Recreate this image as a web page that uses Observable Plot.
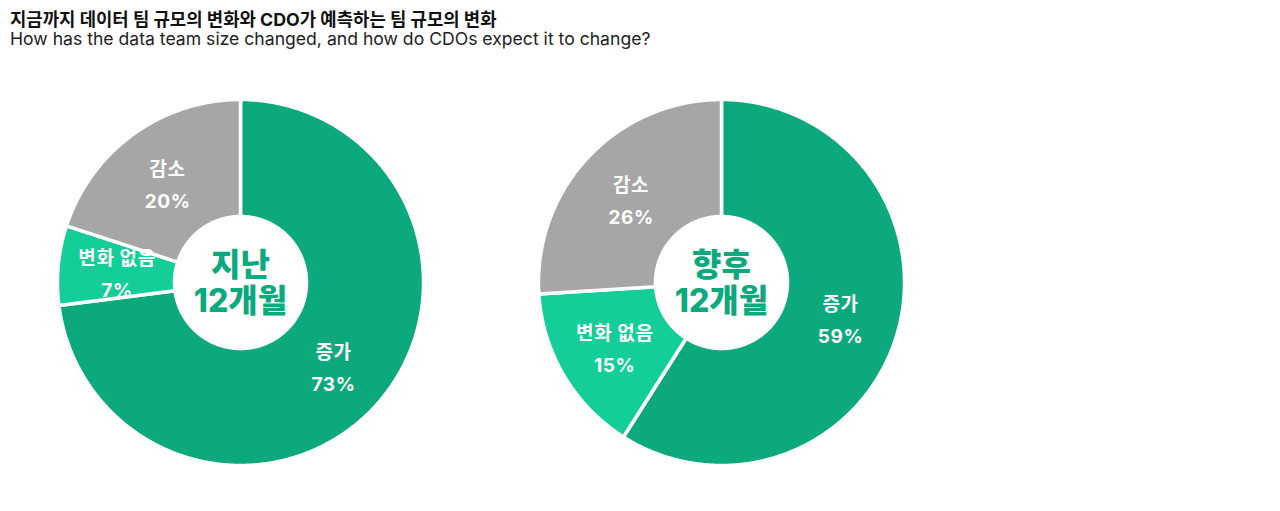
<!DOCTYPE html>
<html>
<head>
<meta charset="utf-8">
<script src="https://cdn.jsdelivr.net/npm/d3@7"></script>
<script src="https://cdn.jsdelivr.net/npm/@observablehq/plot@0.6"></script>
<style>
  body { margin: 0; background: #fff; font-family: Inter, "Noto Sans CJK KR", sans-serif; }
  #title { position: absolute; left: 10px; top: 5px; font-size: 17.8px; font-weight: 700; color: #111; }
  #subtitle { position: absolute; left: 10px; top: 28px; font-size: 17.6px; font-weight: 400; color: #222; }
  #chart { position: absolute; left: 0; top: 55px; }
  #chart g.slice-label text { letter-spacing: 0.6px; }
</style>
</head>
<body>
<div id="title">지금까지 데이터 팀 규모의 변화와 CDO가 예측하는 팀 규모의 변화</div>
<div id="subtitle">How has the data team size changed, and how do CDOs expect it to change?</div>
<div id="chart"></div>
<script>
// ---- data ----
const categories = ["증가", "변화 없음", "감소"];
const pastValues = [73, 7, 20];
const nextValues = [59, 15, 26];
const periods = ["지난\n12개월", "향후\n12개월"];
const colors = ["#0CA97C", "#13CE98", "#A6A6A6"];

// ---- layout ----
const W = 1280, H = 456;
const R = 183;                 // outer radius px
const innerRatio = 66 / 183;
const labelRatio = 124 / 183;
const centerPx = [[240, 227], [721, 227]];

// data coordinates: 1 unit = outer radius
const xDomain = [0, W / R];
const yDomain = [-(H) / R, 0];
const centers = centerPx.map(([px, py]) => [px / R, -py / R]);

const series = [pastValues, nextValues];
const pie = d3.pie().sort(null).value(d => d.value);

const polys = [];
const labels = [];
series.forEach((vals, di) => {
  const arcs = pie(categories.map((c, i) => ({cat: c, value: vals[i]})));
  const [cx, cy] = centers[di];
  arcs.forEach(a => {
    const id = di + "-" + a.data.cat;
    const steps = Math.max(2, Math.ceil((a.endAngle - a.startAngle) / (Math.PI / 360)));
    for (let s = 0; s <= steps; s++) {
      const t = a.startAngle + (a.endAngle - a.startAngle) * s / steps;
      polys.push({id, cat: a.data.cat, x: cx + Math.sin(t), y: cy + Math.cos(t)});
    }
    for (let s = steps; s >= 0; s--) {
      const t = a.startAngle + (a.endAngle - a.startAngle) * s / steps;
      polys.push({id, cat: a.data.cat, x: cx + innerRatio * Math.sin(t), y: cy + innerRatio * Math.cos(t)});
    }
    const m = (a.startAngle + a.endAngle) / 2;
    labels.push({
      x: cx + labelRatio * Math.sin(m),
      y: cy + labelRatio * Math.cos(m),
      text: a.data.cat + "\n" + a.data.value + "%"
    });
  });
});
const centerLabels = periods.map((p, i) => ({x: centers[i][0], y: centers[i][1], text: p}));

const chart = Plot.plot({
  width: W,
  height: H,
  margin: 0,
  x: {domain: xDomain, axis: null},
  y: {domain: yDomain, axis: null},
  color: {domain: categories, range: colors},
  style: {fontFamily: 'Inter, "Noto Sans CJK KR", sans-serif', background: "#fff"},
  marks: [
    Plot.line(polys, {x: "x", y: "y", z: "id", fill: "cat", stroke: "#fff", strokeWidth: 3.5, curve: "linear-closed"}),
    Plot.text(labels, {x: "x", y: "y", text: "text", fill: "#fff", fontSize: 19, fontWeight: 700, lineHeight: 1.68, className: "slice-label"}),
    Plot.text(centerLabels, {x: "x", y: "y", text: "text", fill: "#0CA97C", fontSize: 32, fontWeight: 800, lineHeight: 1.13})
  ]
});
document.getElementById("chart").appendChild(chart);
</script>
</body>
</html>
